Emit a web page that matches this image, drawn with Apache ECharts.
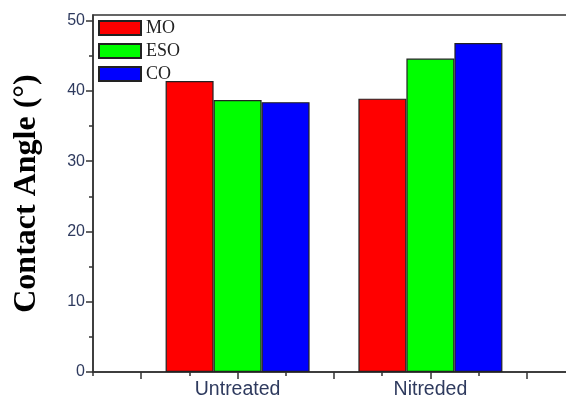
<!DOCTYPE html>
<html>
<head>
<meta charset="utf-8">
<style>
  html, body { margin: 0; padding: 0; background: #fff; }
  #chart { width: 566px; height: 402px; }
</style>
<script src="https://cdn.jsdelivr.net/npm/echarts@6/dist/echarts.min.js"></script>
</head>
<body>
<div id="chart"></div>
<script>
// Groups and where they sit on the x scale
const categories = ['Untreated', 'Nitreded'];
const categoryPositions = [2, 4];

// Contact angle (degrees) per oil
const seriesNames = ['MO', 'ESO', 'CO'];
const moValues = [41.4, 38.9];
const esoValues = [38.7, 44.6];
const coValues = [38.4, 46.8];
const seriesColors = ['#ff0000', '#00ff00', '#0000ff'];

// Axis ticks
const yMajorTicks = [0, 10, 20, 30, 40, 50];
const yMinorTicks = [5, 15, 25, 35, 45];
const xMajorTicks = [1, 2, 3, 4, 5];
const xMinorTicks = [0.5, 1.5, 2.5, 3.5, 4.5];

const chart = echarts.init(document.getElementById('chart'), null, { renderer: 'canvas' });

const lineColor = '#333';
const tickLabelColor = '#2e3a5e';

function pairs(values) {
  return values.map((v, i) => [categoryPositions[i], v]);
}

const allValues = [moValues, esoValues, coValues];

const option = {
  animation: false,
  grid: {
    left: 93, top: 15, width: 482, height: 357,
    containLabel: false,
    outerBoundsMode: 'none',
    show: true, borderColor: lineColor, borderWidth: 1.5, backgroundColor: 'transparent'
  },
  legend: {
    orient: 'vertical',
    left: 98, top: 19, padding: 0,
    itemWidth: 42, itemHeight: 14, itemGap: 5,
    icon: 'rect',
    data: seriesNames,
    textStyle: { fontFamily: 'Liberation Serif, Times New Roman, serif', fontSize: 18, color: '#222' }
  },
  xAxis: [
    {
      type: 'value', min: 0.5, max: 5.5,
      axisLine: { lineStyle: { color: lineColor, width: 1.5 } },
      axisTick: { customValues: xMajorTicks, length: 7, lineStyle: { color: lineColor, width: 1.5 } },
      axisLabel: {
        customValues: categoryPositions,
        formatter: v => { const i = categoryPositions.indexOf(v); return i >= 0 ? categories[i] : ''; },
        fontFamily: 'Liberation Sans, Arial, sans-serif', fontSize: 19.5, color: tickLabelColor, margin: 8
      },
      splitLine: { show: false }
    },
    {
      type: 'value', min: 0.5, max: 5.5, position: 'bottom',
      axisLine: { show: false },
      axisTick: { customValues: xMinorTicks, length: 4, lineStyle: { color: lineColor, width: 1.5 } },
      axisLabel: { show: false },
      splitLine: { show: false }
    }
  ],
  yAxis: [
    {
      type: 'value', min: 0, max: 50.8,
      name: 'Contact Angle (°)',
      nameLocation: 'middle', nameGap: 50,
      nameTextStyle: { fontFamily: 'Liberation Serif, Times New Roman, serif', fontWeight: 'bold', fontSize: 32, color: '#000' },
      axisLine: { show: true, lineStyle: { color: lineColor, width: 1.5 } },
      axisTick: { show: true, customValues: yMajorTicks, length: 7, lineStyle: { color: lineColor, width: 1.5 } },
      axisLabel: {
        customValues: yMajorTicks,
        fontFamily: 'Liberation Sans, Arial, sans-serif', fontSize: 16, color: tickLabelColor, margin: 8
      },
      splitLine: { show: false }
    },
    {
      type: 'value', min: 0, max: 50.8, position: 'left',
      axisLine: { show: false },
      axisTick: { show: true, customValues: yMinorTicks, length: 4, lineStyle: { color: lineColor, width: 1.5 } },
      axisLabel: { show: false },
      splitLine: { show: false }
    }
  ],
  series: seriesNames.map((name, i) => ({
    name,
    type: 'bar',
    xAxisIndex: 0, yAxisIndex: 0,
    barWidth: 48,
    barGap: '0%',
    data: pairs(allValues[i]),
    itemStyle: { color: seriesColors[i], borderColor: '#222', borderWidth: 1.2 }
  }))
};

chart.setOption(option);
</script>
</body>
</html>
